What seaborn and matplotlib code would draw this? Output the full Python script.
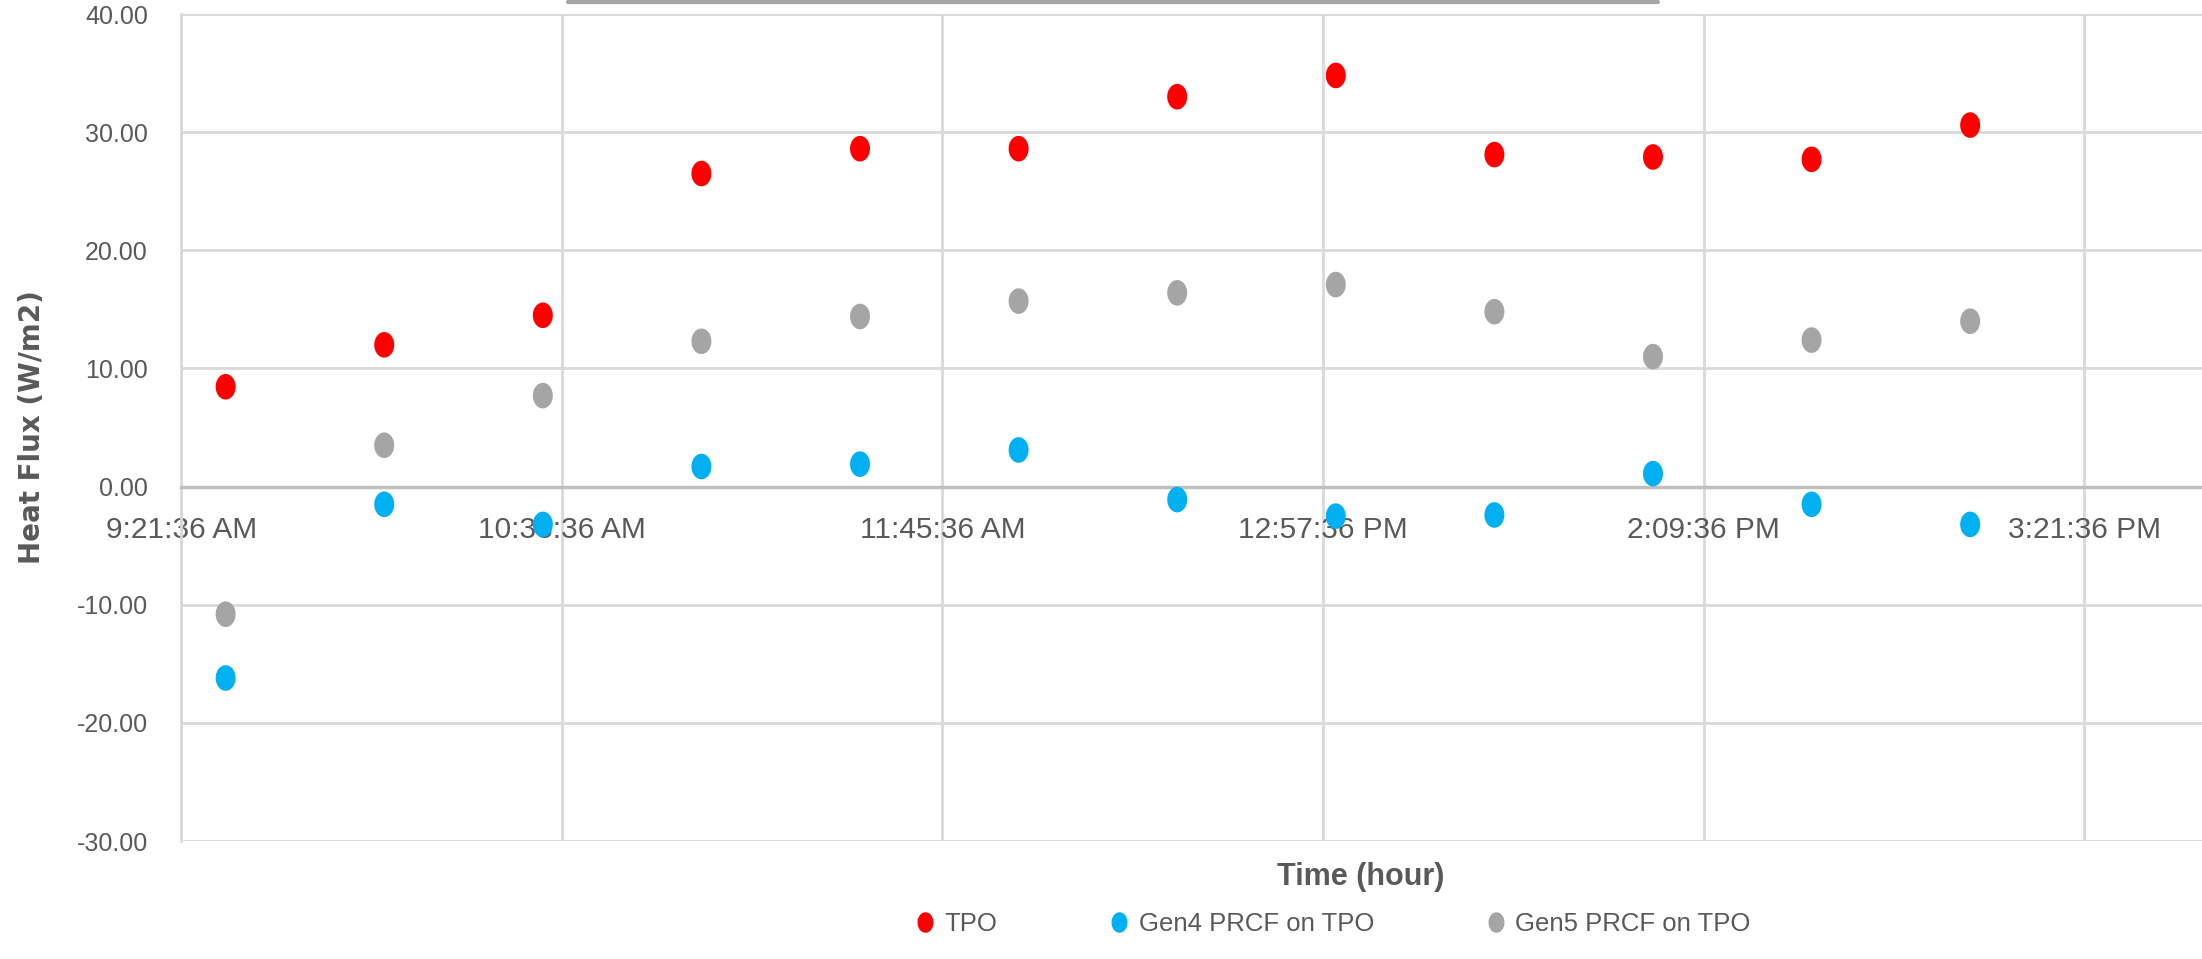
import numpy as np
import pandas as pd
import seaborn as sns
import matplotlib.pyplot as plt
from matplotlib.path import Path
from matplotlib.lines import Line2D

# measurement times (hh:mm) and heat flux readings
times = ["9:30", "10:00", "10:30", "11:00", "11:30", "12:00",
         "12:30", "13:00", "13:30", "14:00", "14:30", "15:00"]
tpo = [8.45, 12.0, 14.5, 26.5, 28.6, 28.6, 33.0, 34.8, 28.1, 27.9, 27.7, 30.6]
gen4 = [-16.2, -1.5, -3.2, 1.7, 1.9, 3.1, -1.1, -2.5, -2.4, 1.1, -1.5, -3.2]
gen5 = [-10.8, 3.5, 7.7, 12.3, 14.4, 15.7, 16.4, 17.1, 14.8, 11.0, 12.4, 14.0]

series_names = ["TPO", "Gen4 PRCF on TPO", "Gen5 PRCF on TPO"]
series_colors = ["#FF0000", "#00B0F0", "#A5A5A5"]

x_tick_hours = [9.36, 10.56, 11.76, 12.96, 14.16, 15.36]
x_tick_labels = ["9:21:36 AM", "10:33:36 AM", "11:45:36 AM", "12:57:36 PM",
                 "2:09:36 PM", "3:21:36 PM"]
y_ticks = [-30, -20, -10, 0, 10, 20, 30, 40]


def to_hours(t):
    h, m = t.split(":")
    return int(h) + int(m) / 60


hours = [to_hours(t) for t in times]
df = pd.DataFrame({
    "hour": hours * 3,
    "flux": tpo + gen4 + gen5,
    "series": [series_names[0]] * len(times) + [series_names[1]] * len(times)
              + [series_names[2]] * len(times),
})

# slightly squashed dot, like the stretched excel screenshot
theta = np.linspace(0, 2 * np.pi, 60)
ellipse = Path(np.column_stack([0.78 * np.cos(theta), np.sin(theta)]), closed=True)

sns.set_style("white")
font = ["Liberation Sans", "DejaVu Sans"]
grey_text = "#595959"

fig = plt.figure(figsize=(22.02, 9.59), dpi=100)
ax = fig.add_axes([0.0823, 0.123, 1.154 - 0.0823, 0.8624])

sns.scatterplot(data=df, x="hour", y="flux", hue="series",
                palette=dict(zip(series_names, series_colors)),
                marker=ellipse, s=340, linewidth=0, ax=ax, zorder=3)

# x axis crosses at zero, like excel
ax.spines["bottom"].set_position(("data", 0))
ax.spines["bottom"].set_color("#BFBFBF")
ax.spines["bottom"].set_linewidth(2.5)
ax.spines["left"].set_color("#D9D9D9")
ax.spines["left"].set_linewidth(2)
for side in ["top", "right"]:
    ax.spines[side].set_visible(False)

ax.set_xlim(9.36, 16.8)
ax.set_ylim(-30, 40)
ax.set_yticks(y_ticks)
ax.set_yticklabels([f"{v:.2f}" for v in y_ticks], family=font,
                   fontsize=18, color=grey_text)
ax.set_xticks(x_tick_hours)
ax.set_xticklabels(x_tick_labels, family=font, fontsize=21.5, color=grey_text)
ax.tick_params(axis="both", length=0)
ax.tick_params(axis="x", pad=21)
ax.tick_params(axis="y", pad=24)

ax.grid(True, color="#D9D9D9", linewidth=2)
ax.set_axisbelow(True)

ax.set_xlabel("Time (hour)", family=font, fontsize=22, fontweight="bold",
              color=grey_text)
ax.xaxis.set_label_coords(0.5, -0.025)
ax.set_ylabel("Heat Flux (W/m2)", fontsize=20, fontweight="bold", color=grey_text)
ax.yaxis.set_label_coords(-0.0575, 0.5)

sns.move_legend(ax, "lower center", bbox_to_anchor=(0.605, 0.0),
                bbox_transform=fig.transFigure, ncol=3, frameon=False,
                title=None, fontsize=18.5, columnspacing=4.3, handletextpad=0.3,
                handlelength=0.9, markerscale=0.8)
for txt in ax.get_legend().get_texts():
    txt.set_color(grey_text)
    txt.set_family(font)

# edge of the chart title box that is cut off at the top
fig.add_artist(Line2D([0.258, 0.753], [0.998, 0.998], color="#A6A6A6",
                      linewidth=3, transform=fig.transFigure))

fig.savefig("out.png", dpi=100)
